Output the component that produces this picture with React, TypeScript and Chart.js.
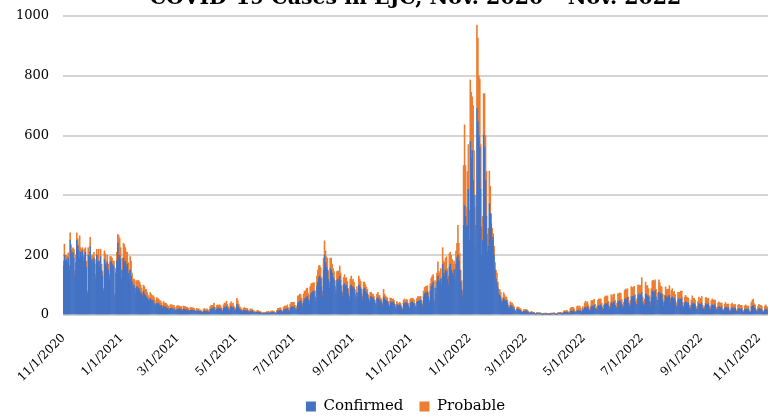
import React, { useEffect, useRef } from "react";
import { Chart, registerables } from "chart.js";

Chart.register(...registerables);

const TITLE = "COVID-19 Cases in EJC, Nov. 2020 \u2013 Nov. 2022";
const SERIES_NAMES = ["Confirmed", "Probable"];
const START = { year: 2020, month: 10, day: 1 }; // 11/1/2020 (month is 0-based)

const tickLabels = [
  "11/1/2020", "1/1/2021", "3/1/2021", "5/1/2021", "7/1/2021", "9/1/2021",
  "11/1/2021", "1/1/2022", "3/1/2022", "5/1/2022", "7/1/2022", "9/1/2022", "11/1/2022",
];

// Daily confirmed cases, one line per month
const confirmed = [
  /* Nov 20 */ 165,200,180,185,175,190,150,250,215,200,210,190,130,175,250,230,215,190,210,200,215,180,200,210,160,70,200,190,230,180,
  /* Dec 20 */ 185,175,190,170,120,200,175,180,160,195,150,130,80,185,170,160,175,150,120,175,180,170,165,160,60,140,180,240,190,200,185,
  /* Jan 21 */ 120,150,190,175,180,160,170,140,120,150,130,110,95,100,90,70,95,85,90,80,75,70,60,80,70,65,60,55,50,45,55,
  /* Feb 21 */ 50,45,50,40,35,30,40,35,38,30,32,28,22,30,25,28,24,22,20,15,22,20,22,18,20,16,12,18,
  /* Mar 21 */ 20,18,22,16,18,12,20,17,19,15,18,14,10,16,15,17,14,16,12,9,14,12,14,10,12,9,7,12,14,11,13,
  /* Apr 21 */ 12,10,8,18,20,22,18,26,16,12,20,24,18,22,20,15,10,22,26,20,30,24,18,12,24,28,22,26,20,14,
  /* May 21 */ 16,36,30,22,18,16,14,10,15,16,14,12,15,11,8,13,12,14,10,9,8,5,9,10,8,9,7,6,4,6,5,
  /* Jun 21 */ 5,7,6,8,5,7,8,7,9,8,6,4,10,14,12,15,16,11,8,16,18,20,17,22,16,10,22,26,28,24,
  /* Jul 21 */ 28,22,14,20,40,42,45,48,38,26,45,52,55,58,62,50,35,65,72,75,80,78,60,42,95,110,125,130,120,95,60,
  /* Aug 21 */ 150,200,175,160,150,120,90,155,150,140,125,120,95,70,115,120,110,130,115,80,60,100,105,95,100,90,70,50,95,100,90,
  /* Sep 21 */ 95,90,70,50,75,60,100,95,90,70,50,85,90,80,75,70,55,40,60,62,55,58,50,40,30,55,58,52,50,45,
  /* Oct 21 */ 42,30,60,55,50,48,45,35,25,45,42,40,44,38,28,20,35,32,30,34,30,22,16,38,40,36,42,38,30,20,40,
  /* Nov 21 */ 42,44,40,38,30,22,42,46,48,45,50,38,28,60,70,75,72,78,60,40,80,95,100,110,40,90,70,110,130,115,
  /* Dec 21 */ 110,120,100,170,140,130,150,145,120,100,160,170,150,140,130,150,120,170,190,200,180,150,110,85,60,300,366,330,295,300,420,
  /* Jan 22 */ 250,580,525,550,450,400,228,300,690,646,600,560,420,200,250,602,560,450,330,210,230,371,340,305,250,261,200,150,120,108,90,
  /* Feb 22 */ 70,65,60,40,45,55,50,45,48,40,25,20,32,30,28,24,20,12,10,18,20,17,16,14,9,7,12,13,
  /* Mar 22 */ 12,14,10,8,5,7,8,7,6,7,4,3,6,5,6,4,5,2,2,4,3,5,3,4,2,1,4,3,5,4,5,
  /* Apr 22 */ 4,2,2,5,6,5,6,5,3,8,9,8,10,9,6,5,12,13,12,14,11,8,7,14,16,13,14,12,8,18,
  /* May 22 */ 14,24,26,22,28,20,12,16,28,30,26,32,22,14,18,30,32,28,34,26,16,20,36,38,34,40,30,18,24,42,36,
  /* Jun 22 */ 40,44,32,20,26,46,42,48,44,34,22,28,52,55,50,58,40,26,32,60,62,56,64,46,28,36,66,70,62,68,
  /* Jul 22 */ 75,40,30,35,70,68,64,60,45,30,58,80,78,72,82,60,35,50,76,74,66,70,50,30,46,64,60,58,62,66,40,
  /* Aug 22 */ 56,60,52,56,48,30,24,50,54,48,52,56,30,22,40,44,42,38,40,22,18,32,40,36,38,34,20,16,30,38,34,
  /* Sep 22 */ 36,40,22,18,20,38,36,34,38,20,16,30,34,32,30,34,18,14,26,28,26,24,28,14,12,22,26,24,22,25,
  /* Oct 22 */ 12,10,22,24,22,20,24,12,10,20,22,20,18,22,11,9,18,20,19,17,20,10,8,26,30,32,24,22,12,9,18,
  /* Nov 22 */ 22,20,18,20,10,8,16,20,18,16,
];

// Daily probable cases, one line per month
const probable = [
  /* Nov 20 */ 15,37,20,15,22,18,15,25,20,22,15,30,18,25,25,25,20,75,15,20,10,15,20,15,20,10,25,20,30,15,
  /* Dec 20 */ 15,25,20,15,15,20,25,40,20,25,20,15,10,30,35,20,25,20,15,20,15,20,15,20,10,15,30,30,75,55,40,
  /* Jan 21 */ 30,40,50,60,45,50,40,35,30,45,50,30,25,20,25,20,20,30,25,30,25,20,15,20,25,20,25,20,15,12,20,
  /* Feb 21 */ 20,20,15,20,15,10,18,20,15,18,15,12,10,15,15,12,14,12,10,8,12,14,12,10,12,10,8,12,
  /* Mar 21 */ 12,10,8,12,10,6,10,12,9,10,8,8,5,9,10,8,9,7,6,4,8,6,7,6,5,4,3,7,8,6,7,
  /* Apr 21 */ 8,6,4,10,12,10,14,14,10,6,12,10,14,12,10,8,5,12,14,18,16,12,10,6,14,16,12,14,10,8,
  /* May 21 */ 8,20,18,14,10,8,6,5,8,9,8,10,7,5,4,7,8,6,6,5,4,3,5,6,5,4,4,3,2,3,4,
  /* Jun 21 */ 3,4,5,4,3,4,5,6,5,4,3,2,6,8,10,9,8,6,4,10,12,10,12,12,8,5,14,16,14,18,
  /* Jul 21 */ 14,10,6,10,24,22,25,20,18,12,25,28,25,30,28,22,15,30,32,30,28,30,22,15,35,40,40,35,38,30,20,
  /* Aug 21 */ 40,48,40,35,40,28,20,35,40,30,30,25,20,15,30,28,35,34,25,18,15,25,30,28,25,22,18,12,25,30,25,
  /* Sep 21 */ 25,20,15,12,20,15,30,25,22,15,12,25,20,22,18,16,12,10,15,14,15,12,12,10,8,15,18,14,15,12,
  /* Oct 21 */ 10,8,26,15,14,12,12,10,7,12,14,12,10,10,8,5,10,8,9,8,8,6,4,12,14,12,10,12,8,5,12,
  /* Nov 21 */ 14,12,15,12,8,6,14,16,14,15,12,10,8,20,22,20,24,20,15,10,25,28,30,25,10,25,20,30,48,30,
  /* Dec 21 */ 30,35,25,55,40,45,40,50,35,30,45,40,50,45,40,30,35,45,50,100,60,55,40,30,20,200,270,170,65,180,150,
  /* Jan 22 */ 100,206,220,180,250,150,132,100,280,280,200,230,150,95,80,138,180,150,150,60,60,110,90,33,40,11,30,25,30,32,20,
  /* Feb 22 */ 16,20,15,10,12,20,18,15,12,10,8,6,12,10,12,10,8,5,4,8,7,8,6,6,4,3,6,5,
  /* Mar 22 */ 6,5,6,4,2,3,3,4,3,2,2,1,3,3,2,3,2,1,1,2,2,2,2,1,1,1,2,3,2,2,3,
  /* Apr 22 */ 2,1,2,3,3,4,3,3,2,5,6,5,6,5,4,3,10,12,14,12,10,6,5,14,15,12,16,10,6,10,
  /* May 22 */ 8,16,20,18,16,14,8,10,20,18,22,20,14,8,10,20,22,24,20,14,8,12,24,26,28,24,16,10,14,26,22,
  /* Jun 22 */ 28,26,18,10,14,26,30,26,28,18,12,14,30,32,34,30,20,12,16,35,30,36,32,22,14,18,34,30,36,30,
  /* Jul 22 */ 50,20,15,18,40,30,34,28,20,14,30,34,38,40,36,26,15,24,42,34,30,24,20,12,20,30,24,28,24,32,16,
  /* Aug 22 */ 26,28,24,22,20,12,10,26,22,26,28,24,12,8,20,22,18,20,16,10,8,18,24,20,18,16,8,6,16,22,20,
  /* Sep 22 */ 20,22,10,8,10,20,22,20,18,10,8,18,20,18,20,16,8,6,14,16,14,16,12,6,5,14,16,12,14,12,
  /* Oct 22 */ 6,5,14,16,12,14,12,6,4,12,14,12,14,10,5,4,12,14,12,12,10,5,4,16,20,21,14,12,6,4,12,
  /* Nov 22 */ 14,12,14,10,5,4,12,14,12,10,
];

// Category labels: one per day starting at START
const dayLabels = confirmed.map((_, i) => {
  const d = new Date(Date.UTC(START.year, START.month, START.day + i));
  return `${d.getUTCMonth() + 1}/${d.getUTCDate()}/${d.getUTCFullYear()}`;
});
const tickSet = new Set(tickLabels);

const FONT = "'DejaVu Serif', 'Liberation Serif', serif";
const OFFSET = 24;
const CANVAS_H = 448;

// shifts the centred legend row slightly left, as in the original
const legendShift = {
  id: "legendShift",
  afterLayout(chart: any) {
    if (chart.legend) chart.legend.right -= 20;
  },
};

export default function App() {
  const ref = useRef<HTMLCanvasElement | null>(null);

  useEffect(() => {
    if (!ref.current) return;
    const chart = new Chart(ref.current, {
      type: "bar",
      data: {
        labels: dayLabels,
        datasets: [
          { label: SERIES_NAMES[0], data: confirmed, backgroundColor: "#4472C4", borderWidth: 0 },
          { label: SERIES_NAMES[1], data: probable, backgroundColor: "#ED7D31", borderWidth: 0 },
        ],
      },
      options: {
        animation: false,
        responsive: false,
        maintainAspectRatio: false,
        datasets: { bar: { barPercentage: 1, categoryPercentage: 1 } },
        layout: { padding: { left: 8, right: 5, top: 0, bottom: 0 } },
        scales: {
          x: {
            stacked: true,
            grid: { display: false, drawTicks: false },
            border: { display: false },
            ticks: {
              autoSkip: false,
              maxRotation: 45,
              minRotation: 45,
              padding: 16,
              color: "#000",
              font: { family: FONT, size: 12 },
              callback: (_v: any, i: number) => (tickSet.has(dayLabels[i]) ? dayLabels[i] : null),
            },
            afterFit: (s: any) => {
              s.height = 68;
              s.paddingLeft = 0;
              s.paddingRight = 0;
            },
          },
          y: {
            stacked: true,
            min: 0,
            max: 1000,
            ticks: {
              stepSize: 200,
              padding: 14,
              color: "#000",
              font: { family: FONT, size: 13 },
              callback: (v: any) => String(v),
            },
            grid: { display: true, drawOnChartArea: true, color: "#d4d4d4", lineWidth: 2, drawTicks: false },
            border: { display: false },
            afterFit: (s: any) => {
              s.width = 55;
              s.paddingTop = 0;
              s.paddingBottom = 0;
            },
          },
        },
        plugins: {
          title: {
            display: true,
            text: TITLE,
            fullSize: false,
            color: "#000",
            font: { family: FONT, size: 20.5, weight: "bold" },
            padding: { top: 10, bottom: 5.4 },
          },
          legend: {
            position: "bottom",
            fullSize: false,
            labels: { boxWidth: 10, boxHeight: 10, padding: 16, color: "#000", font: { family: FONT, size: 15 } },
          },
          tooltip: { enabled: false },
        },
      } as any,
      plugins: [legendShift],
    });
    return () => chart.destroy();
  }, []);

  return (
    <div style={{ position: "fixed", left: 0, top: -OFFSET, width: 773, height: CANVAS_H, background: "#fff" }}>
      <canvas ref={ref} width={773} height={CANVAS_H} style={{ display: "block" }} />
    </div>
  );
}
